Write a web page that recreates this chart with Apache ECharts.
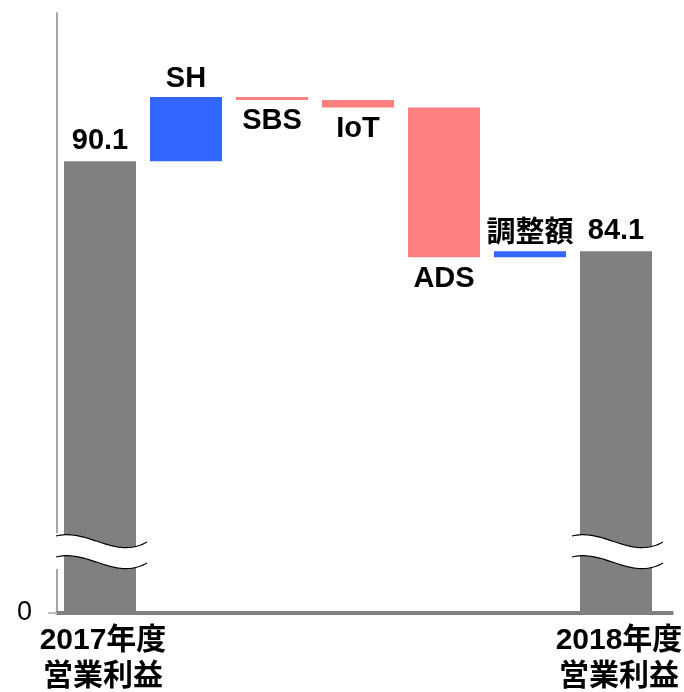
<!DOCTYPE html>
<html>
<head>
<meta charset="utf-8">
<script src="https://cdn.jsdelivr.net/npm/echarts@6/dist/echarts.min.js"></script>
<style>
    html, body {margin: 0; padding: 0; background: #fff;}
    #main {width: 684px; height: 692px;}
</style>
</head>
<body>
<div id="main"></div>
<script>
    var categories = ['2017年度\n営業利益', 'SH', 'SBS', 'IoT', 'ADS', '調整額', '2018年度\n営業利益'];
    var startTotal = 90.1;
    var deltas = [4.3, -0.2, -0.5, -10.0, 0.4];   // SH, SBS, IoT, ADS, 調整額
    var endTotal = 84.1;

    var FONT = '"Liberation Sans", Arial, "Noto Sans CJK JP", sans-serif';

    // 滝グラフ用に積み上げデータを作る
    var baseData = ['-'], totalData = [startTotal], upData = ['-'], downData = ['-'];
    var running = startTotal;
    for (var i = 0; i < deltas.length; i++) {
        var d = deltas[i];
        baseData.push(+(d >= 0 ? running : running + d).toFixed(2));
        totalData.push('-');
        upData.push(d >= 0 ? d : '-');
        downData.push(d < 0 ? -d : '-');
        running += d;
    }
    baseData.push('-');
    totalData.push(endTotal);
    upData.push('-');
    downData.push('-');

    var myChart = echarts.init(document.getElementById('main'));

    var nameLabel = function (pos, dist) {
        return {
            show: true,
            position: pos,
            distance: dist,
            color: '#000',
            fontSize: 29,
            fontWeight: 'bold',
            fontFamily: FONT,
            formatter: function (p) { return categories[p.dataIndex]; }
        };
    };

    var option = {
        animation: false,
        backgroundColor: '#fff',
        grid: [
            {left: 57, width: 602, top: 13, height: 535, outerBoundsMode: 'none', containLabel: false},
            {left: 57, width: 602, top: 548, height: 65, outerBoundsMode: 'none', containLabel: false}
        ],
        xAxis: [
            {type: 'category', gridIndex: 0, data: categories, show: false},
            {
                type: 'category', gridIndex: 1, data: categories,
                axisLine: {lineStyle: {color: '#808080', width: 4}},
                axisTick: {show: false},
                axisLabel: {
                    interval: 0,
                    margin: 10,
                    color: '#000',
                    fontSize: 30,
                    lineHeight: 36,
                    fontWeight: 'bold',
                    fontFamily: FONT,
                    padding: [0, 0, 0, 6],
                    formatter: function (v, idx) {
                        return (idx === 0 || idx === categories.length - 1) ? v : '';
                    }
                }
            }
        ],
        yAxis: [
            {
                type: 'value', gridIndex: 0, min: 64.3, max: 100,
                axisLine: {show: true, lineStyle: {color: '#a6a6a6', width: 2}},
                axisTick: {show: false},
                axisLabel: {show: false},
                splitLine: {show: false}
            },
            {
                type: 'value', gridIndex: 1, min: 0, max: 4.3, interval: 4.3,
                axisLine: {show: true, lineStyle: {color: '#a6a6a6', width: 2}},
                axisTick: {show: true, length: 9, lineStyle: {color: '#bfbfbf', width: 2}},
                axisLabel: {
                    margin: 25,
                    padding: [10, 0, 0, 0],
                    color: '#000', fontSize: 27, fontFamily: FONT,
                    formatter: function (v) { return v === 0 ? '0' : ''; }
                },
                splitLine: {show: false}
            }
        ],
        series: [
            {
                name: 'base', type: 'bar', stack: 'wf', xAxisIndex: 0, yAxisIndex: 0,
                barWidth: 72, itemStyle: {color: 'transparent'},
                emphasis: {disabled: true}, data: baseData
            },
            {
                name: 'total', type: 'bar', stack: 'wf', xAxisIndex: 0, yAxisIndex: 0,
                barWidth: 72, itemStyle: {color: '#808080'},
                label: {
                    show: true, position: 'top', distance: 6, color: '#000',
                    fontSize: 29, fontWeight: 'bold', fontFamily: FONT
                },
                data: totalData
            },
            {
                name: 'up', type: 'bar', stack: 'wf', xAxisIndex: 0, yAxisIndex: 0,
                barWidth: 72, itemStyle: {color: '#3366ff'},
                label: nameLabel('top', 3),
                data: upData
            },
            {
                name: 'down', type: 'bar', stack: 'wf', xAxisIndex: 0, yAxisIndex: 0,
                barWidth: 72, itemStyle: {color: '#ff7f7f'},
                label: nameLabel('bottom', 7),
                data: downData
            },
            {
                name: 'totalLow', type: 'bar', xAxisIndex: 1, yAxisIndex: 1,
                barWidth: 72, itemStyle: {color: '#808080'},
                data: totalData
            }
        ]
    };

    myChart.setOption(option);

    // 省略記号（波線）を描く
    function bez(p0, p1, p2, p3, t) {
        var u = 1 - t;
        return u * u * u * p0 + 3 * u * u * t * p1 + 3 * u * t * t * p2 + t * t * t * p3;
    }

    function wavePoints(x0, w, y0) {
        var pts = [];
        for (var k = 0; k <= 40; k++) {
            var t = k / 40;
            pts.push([bez(x0, x0 + 0.35 * w, x0 + 0.65 * w, x0 + w, t),
                      bez(y0, y0 - 8, y0 + 24, y0 + 6, t)]);
        }
        return pts;
    }

    var joinY = myChart.convertToPixel({yAxisIndex: 0}, 64.3);
    var zeroY = myChart.convertToPixel({yAxisIndex: 1}, 0);
    var axisX = myChart.convertToPixel({xAxisIndex: 1}, 0) - 43.5;
    var rightX = myChart.convertToPixel({xAxisIndex: 1}, categories.length - 1) + 41.5;
    var graphics = [];
    [0, categories.length - 1].forEach(function (idx) {
        var cx = myChart.convertToPixel({xAxisIndex: 1}, idx);
        var x0 = cx - 44, w = 91;
        var top = wavePoints(x0, w, joinY - 12);
        var bot = wavePoints(x0, w, joinY + 9);
        graphics.push({
            type: 'polygon', z: 100,
            shape: {points: top.concat(bot.slice().reverse())},
            style: {fill: '#fff', stroke: null}
        });
        graphics.push({type: 'polyline', z: 101, shape: {points: top}, style: {stroke: '#000', lineWidth: 1.2, fill: null}});
        graphics.push({type: 'polyline', z: 101, shape: {points: bot}, style: {stroke: '#000', lineWidth: 1.2, fill: null}});
    });
    // 縦軸の切れ目
    graphics.push({type: 'rect', z: 100, shape: {x: axisX - 12, y: joinY - 15, width: 15, height: 36}, style: {fill: '#fff'}});
    // 横軸を右へ少し延長
    graphics.push({type: 'rect', z: 90, shape: {x: rightX - 2, y: zeroY - 2, width: 18, height: 4}, style: {fill: '#808080'}});
    myChart.setOption({graphic: graphics});

    window.onresize = function () {
        myChart.resize();
    };
</script>
</body>
</html>
